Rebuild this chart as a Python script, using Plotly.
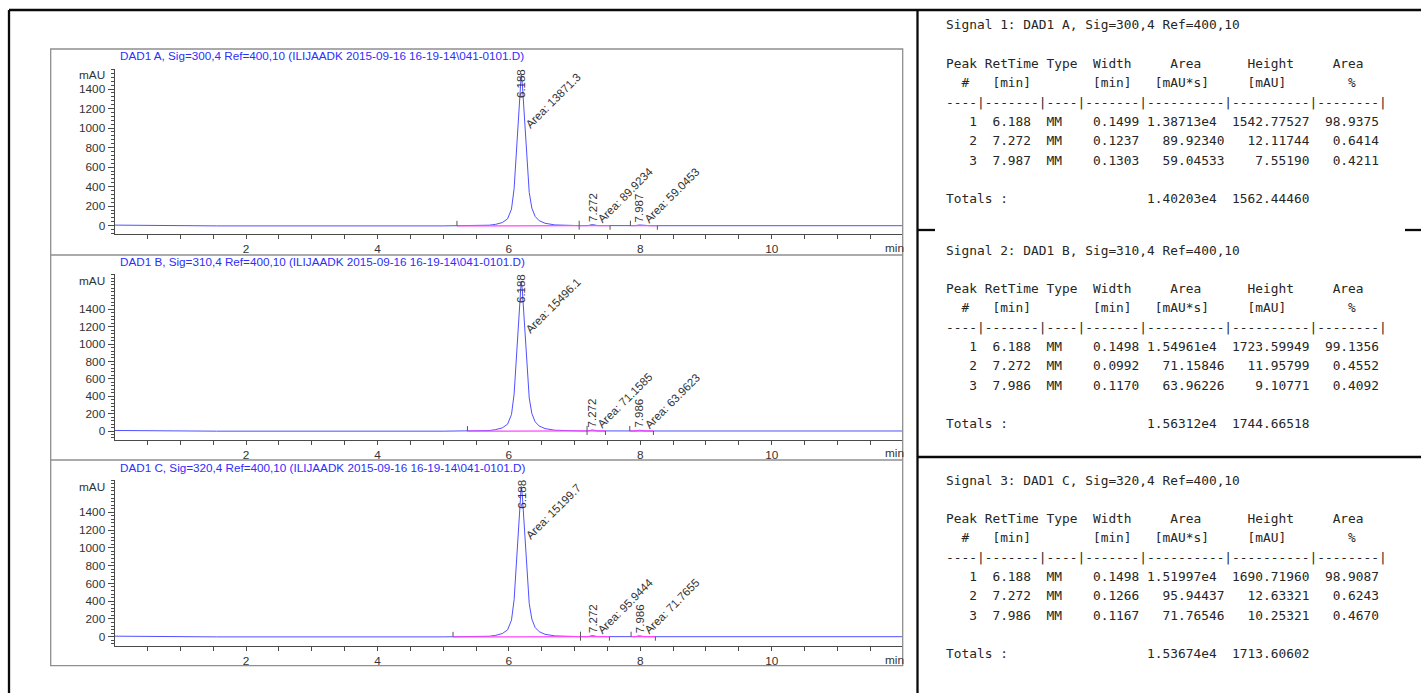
import numpy as np
import plotly.graph_objects as go

# ---------------- data ----------------
# retention time grid (min) shared by the three detector channels
time_min = [0.00, 0.45, 1.55, 5.00, 5.50, 5.70, 5.80, 5.90, 5.98, 6.04, 6.08, 6.12, 6.15, 6.17, 6.188,
            6.205, 6.225, 6.25, 6.28, 6.31, 6.35, 6.40, 6.46, 6.55, 6.70, 6.90, 7.10, 7.20, 7.272, 7.35,
            7.45, 7.80, 7.92, 7.987, 8.06, 8.15, 9.00, 12.0]

# absorbance (mAU)
signal_a = [6, 2, -2, -2, -1, 5, 14, 32, 70, 170, 380, 800, 1180, 1430, 1542.77527,
            1450, 1230, 920, 580, 340, 180, 95, 52, 25, 8, 1, 0, 0.5, 12.11744, 1,
            0, 0, 0.5, 7.55190, 1, 0, 0, 0]
signal_b = [6, 2, -2, -2, -1, 5, 16, 36, 78, 190, 425, 895, 1320, 1600, 1723.59949,
            1620, 1375, 1030, 650, 380, 200, 106, 58, 28, 9, 1, 0, 0.5, 11.95799, 1,
            0, 0, 0.5, 9.10771, 1, 0, 0, 0]
signal_c = [6, 2, -2, -2, -1, 5, 15, 35, 77, 186, 416, 877, 1293, 1567, 1690.71960,
            1590, 1348, 1008, 636, 373, 197, 104, 57, 27, 9, 1, 0, 0.5, 12.63321, 1,
            0, 0, 0.5, 10.25321, 1, 0, 0, 0]

panel_titles = [
    "DAD1 A, Sig=300,4 Ref=400,10 (ILIJAADK 2015-09-16 16-19-14\\041-0101.D)",
    "DAD1 B, Sig=310,4 Ref=400,10 (ILIJAADK 2015-09-16 16-19-14\\041-0101.D)",
    "DAD1 C, Sig=320,4 Ref=400,10 (ILIJAADK 2015-09-16 16-19-14\\041-0101.D)",
]
report_titles = [
    "Signal 1: DAD1 A, Sig=300,4 Ref=400,10",
    "Signal 2: DAD1 B, Sig=310,4 Ref=400,10",
    "Signal 3: DAD1 C, Sig=320,4 Ref=400,10",
]

# peak tables
peak_no = [1, 2, 3]
peak_type = ["MM", "MM", "MM"]
rt_a = [6.188, 7.272, 7.987]
rt_b = [6.188, 7.272, 7.986]
rt_c = [6.188, 7.272, 7.986]
width_a = [0.1499, 0.1237, 0.1303]
width_b = [0.1498, 0.0992, 0.1170]
width_c = [0.1498, 0.1266, 0.1167]
area_a = [13871.3, 89.92340, 59.04533]
area_b = [15496.1, 71.15846, 63.96226]
area_c = [15199.7, 95.94437, 71.76546]
height_a = [1542.77527, 12.11744, 7.55190]
height_b = [1723.59949, 11.95799, 9.10771]
height_c = [1690.71960, 12.63321, 10.25321]
pct_a = [98.9375, 0.6414, 0.4211]
pct_b = [99.1356, 0.4552, 0.4092]
pct_c = [98.9087, 0.6243, 0.4670]
total_area = [14020.3, 15631.2, 15367.4]
total_height = [1562.44460, 1744.66518, 1713.60602]

# integration baselines (start / end, min)
base_start_a = [5.21, 7.07, 7.85]
base_end_a = [7.07, 7.54, 8.26]
base_start_b = [5.37, 7.19, 7.84]
base_end_b = [7.19, 7.47, 8.20]
base_start_c = [5.15, 7.09, 7.86]
base_end_c = [7.09, 7.53, 8.23]

x_ticks = [2, 4, 6, 8, 10]
x_minor = [0.5, 1.0, 1.5, 2.5, 3.0, 3.5, 4.5, 5.0, 5.5, 6.5, 7.0, 7.5, 8.5, 9.0, 9.5, 10.5, 11.0, 11.5]
y_ticks = [0, 200, 400, 600, 800, 1000, 1200, 1400]

# ---------------- page geometry (pixels) ----------------
W, H = 1421, 693
X0_PX, X1_PX = 114.6, 903.0
PX_PER_MIN = 65.71
panels_px = [
    dict(top=69.3, bottom=234.3, zero=225.7, y1400=89.0, title=56.0, unit=75.0, label=248.0),
    dict(top=274.3, bottom=440.0, zero=431.0, y1400=309.3, title=261.7, unit=280.7, label=453.3),
    dict(top=480.0, bottom=645.7, zero=636.7, y1400=512.3, title=467.3, unit=486.7, label=660.0),
]

BLUE = "rgb(80,80,255)"
TITLE_BLUE = "rgb(45,45,255)"
MAGENTA = "rgb(255,70,255)"
AXIS = "#4a4a4a"
TEXT = "#333333"
SANS = "Liberation Sans, Arial, sans-serif"
MONO = "DejaVu Sans Mono, monospace"


def px(x):
    return x / W


def py(y):
    return 1 - y / H


signals = [signal_a, signal_b, signal_c]
rts = [rt_a, rt_b, rt_c]
widths = [width_a, width_b, width_c]
areas = [area_a, area_b, area_c]
heights = [height_a, height_b, height_c]
pcts = [pct_a, pct_b, pct_c]
bstarts = [base_start_a, base_start_b, base_start_c]
bends = [base_end_a, base_end_b, base_end_c]

fig = go.Figure()
annotations = []
shapes = []
x_max = (X1_PX - X0_PX) / PX_PER_MIN

for i, g in enumerate(panels_px):
    suffix = "" if i == 0 else str(i + 1)
    xa, ya = "x" + suffix, "y" + suffix
    scale = (g["zero"] - g["y1400"]) / 1400.0  # px per mAU
    y_lo = (g["zero"] - g["bottom"]) / scale
    y_hi = (g["zero"] - g["top"]) / scale
    sig = signals[i]

    # chromatogram
    fig.add_trace(go.Scatter(x=time_min, y=sig, xaxis=xa, yaxis=ya, mode="lines",
                             line=dict(color=BLUE, width=1), hoverinfo="skip"))

    # integration baselines
    bx, by = [], []
    for s0, s1 in zip(bstarts[i], bends[i]):
        bx += [s0, s1, None]
        by += [float(np.interp(s0, time_min, sig)), float(np.interp(s1, time_min, sig)), None]
    fig.add_trace(go.Scatter(x=bx, y=by, xaxis=xa, yaxis=ya, mode="lines",
                             line=dict(color=MAGENTA, width=1.3), hoverinfo="skip"))

    # peak start / end event marks
    ex, ey = [], []
    up, down = 5.0 / scale, 4.0 / scale
    for s0 in bstarts[i]:
        b = float(np.interp(s0, time_min, sig))
        ex += [s0, s0, None]
        ey += [b, b + up, None]
    for s1 in bends[i]:
        b = float(np.interp(s1, time_min, sig))
        ex += [s1, s1, None]
        ey += [b, b - down, None]
    fig.add_trace(go.Scatter(x=ex, y=ey, xaxis=xa, yaxis=ya, mode="lines",
                             line=dict(color="#555555", width=1), hoverinfo="skip"))

    # axes
    fig.layout["xaxis" + suffix] = dict(
        domain=[px(X0_PX), px(X1_PX)], range=[0, x_max], anchor=ya,
        showline=True, linecolor=AXIS, linewidth=1, showgrid=False, zeroline=False,
        tickmode="array", tickvals=x_ticks, ticktext=[str(v) for v in x_ticks],
        ticks="outside", ticklen=4, tickwidth=1, tickcolor=AXIS,
        minor=dict(tickmode="array", tickvals=x_minor, ticks="outside", ticklen=4,
                   tickwidth=1, tickcolor=AXIS, showgrid=False),
        tickfont=dict(family=SANS, size=11.8, color=TEXT), fixedrange=True,
    )
    y_minor = [v for v in range(-80, int(y_hi) + 1, 40) if v % 200 != 0 or v > 1400 or v < 0]
    fig.layout["yaxis" + suffix] = dict(
        domain=[py(g["bottom"]), py(g["top"])], range=[y_lo, y_hi], anchor=xa,
        showline=True, linecolor=AXIS, linewidth=1, showgrid=False, zeroline=False,
        tickmode="array", tickvals=y_ticks, ticktext=[str(v) for v in y_ticks],
        ticks="outside", ticklen=6, tickwidth=1, tickcolor=AXIS,
        minor=dict(tickmode="array", tickvals=y_minor, ticks="outside", ticklen=3,
                   tickwidth=1, tickcolor=AXIS, showgrid=False),
        tickfont=dict(family=SANS, size=11.8, color=TEXT), fixedrange=True,
    )

    # panel title, unit and axis caption
    annotations.append(dict(xref="paper", yref="paper", x=px(119), y=py(g["title"]),
                            xanchor="left", yanchor="middle", text=panel_titles[i], showarrow=False,
                            font=dict(family=SANS, size=11.7, color=TITLE_BLUE), borderpad=0))
    annotations.append(dict(xref="paper", yref="paper", x=px(105.5), y=py(g["unit"]),
                            xanchor="right", yanchor="middle", text="mAU", showarrow=False,
                            font=dict(family=SANS, size=11.8, color=TEXT), borderpad=0))
    annotations.append(dict(xref="paper", yref="paper", x=px(905), y=py(g["label"]),
                            xanchor="right", yanchor="middle", text="min", showarrow=False,
                            font=dict(family=SANS, size=11.8, color=TEXT), borderpad=0))

    # peak labels: retention time (vertical) and area (diagonal)
    half = 14.5
    for rt, h, a in zip(rts[i], heights[i], areas[i]):
        apex = g["zero"] - h * scale
        cy = apex - 2.5 - half
        clamped = cy - half < g["top"]
        if clamped:
            cy = g["top"] + half
            ax_off, ay = 31.5, cy + 17
        else:
            ax_off, ay = 33.0, cy - 12.5
        annotations.append(dict(xref=xa, yref=ya, x=rt, y=h, xshift=0, yshift=apex - cy,
                                text=f"{rt:.3f}", textangle=-90, showarrow=False,
                                xanchor="center", yanchor="middle", borderpad=0,
                                font=dict(family=SANS, size=11.5, color=TEXT)))
        annotations.append(dict(xref=xa, yref=ya, x=rt, y=h, xshift=ax_off, yshift=apex - ay,
                                text=f"Area: {a:.6g}", textangle=-45, showarrow=False,
                                xanchor="center", yanchor="middle", borderpad=0,
                                font=dict(family=SANS, size=11.5, color=TEXT)))


# ---------------- peak report tables ----------------
def sci(v):
    m, e = f"{v:.5e}".split("e")
    return f"{m}e{int(e)}"


def report_lines(i):
    lines = [report_titles[i], "",
             "Peak RetTime Type  Width     Area      Height     Area",
             "  #   [min]        [min]   [mAU*s]     [mAU]        %",
             "----|-------|----|-------|----------|----------|--------|"]
    for n, rt, tp, w, a, h, p in zip(peak_no, rts[i], peak_type, widths[i], areas[i], heights[i], pcts[i]):
        a_txt = f" {sci(a):<10}" if a >= 1e4 else f"{a:>11.5f}"
        lines.append(f"{n:>4}  {rt:.3f}  {tp}    {w:.4f}{a_txt}{h:>11.5f}{p:>9.4f}")
    lines.append("")
    lines.append("Totals :" + " " * 18 + f"{sci(total_area[i])}{total_height[i]:>12.5f}")
    return lines


block_top = [25.0, 250.0, 480.0]
LINE_STEP = 19.3
for i in range(3):
    for k, line in enumerate(report_lines(i)):
        if not line:
            continue
        annotations.append(dict(xref="paper", yref="paper", x=px(946), y=py(block_top[i] + k * LINE_STEP),
                                xanchor="left", yanchor="middle", text=line.replace(" ", "\u00a0"),
                                showarrow=False, borderpad=0, borderwidth=0,
                                font=dict(family=MONO, size=12.85, color="#262626")))

# ---------------- frames and rules ----------------
FRAME = "#8f8f8f"
shapes.append(dict(type="rect", xref="paper", yref="paper", x0=px(50.7), x1=px(902.7),
                   y0=py(665.7), y1=py(49), line=dict(color=FRAME, width=1.3)))
for yy in (255.0, 460.0):
    shapes.append(dict(type="line", xref="paper", yref="paper", x0=px(50.7), x1=px(902.7),
                       y0=py(yy), y1=py(yy), line=dict(color=FRAME, width=1.3)))

BLACK = "#0a0a0a"
DIV_X = 917.5
for (xa0, ya0, xa1, ya1) in [(9, 10, 1421, 10), (9, 10, 9, 693), (DIV_X, 10, DIV_X, 693),
                             (DIV_X, 230, 935, 230), (1405, 230, 1421, 230), (DIV_X, 457, 1421, 457)]:
    shapes.append(dict(type="line", xref="paper", yref="paper", x0=px(xa0), x1=px(xa1),
                       y0=py(ya0), y1=py(ya1), line=dict(color=BLACK, width=2.3)))

fig.update_layout(
    width=W, height=H, margin=dict(l=0, r=0, t=0, b=0),
    paper_bgcolor="white", plot_bgcolor="white", showlegend=False,
    annotations=annotations, shapes=shapes,
)

fig.write_html("out.html")
